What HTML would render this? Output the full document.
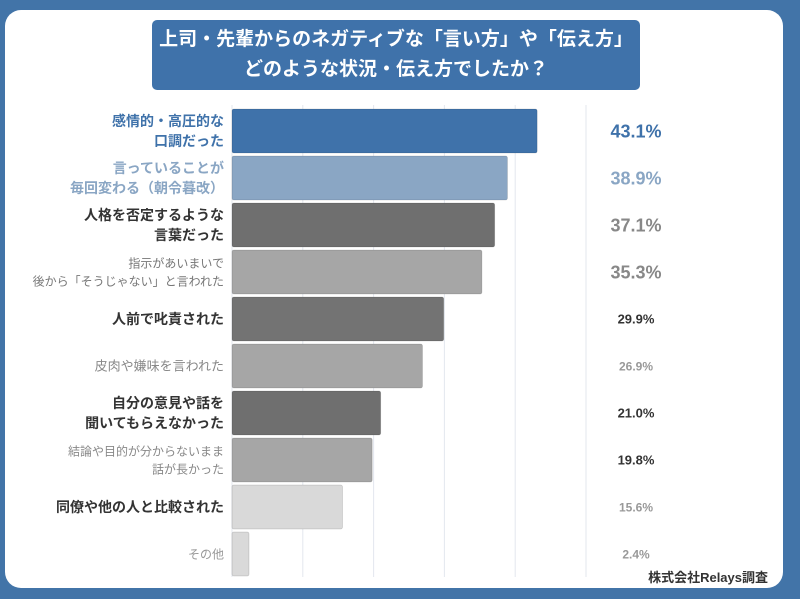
<!DOCTYPE html>
<html><head><meta charset="utf-8"><style>
body{margin:0;width:800px;height:599px;background:#4274a8;font-family:"Liberation Sans","Noto Sans CJK JP",sans-serif;overflow:hidden}
#card{position:absolute;left:5px;top:10px;width:778px;height:578px;background:#fff;border-radius:16px}
#title{position:absolute;left:152px;top:20px;width:488px;height:70px;background:#3f72aa;border-radius:5px;color:#fff;font-weight:bold;font-size:19px;text-align:center;line-height:30px;padding-top:5px;box-sizing:border-box}
svg{position:absolute;left:0;top:0}
</style></head><body>
<div id="card"></div>
<div id="title">上司・先輩からのネガティブな「言い方」や「伝え方」<br>どのような状況・伝え方でしたか？</div>
<svg id="chart" width="800" height="599"></svg>
<script>
const categories=[["感情的・高圧的な","口調だった"],["言っていることが","毎回変わる（朝令暮改）"],["人格を否定するような","言葉だった"],["指示があいまいで","後から「そうじゃない」と言われた"],["人前で叱責された"],["皮肉や嫌味を言われた"],["自分の意見や話を","聞いてもらえなかった"],["結論や目的が分からないまま","話が長かった"],["同僚や他の人と比較された"],["その他"]];
const values=[43.1,38.9,37.1,35.3,29.9,26.9,21.0,19.8,15.6,2.4];
const ticks=[0,10,20,30,40,50];
const barColors=["#3f72aa","#8aa6c4","#6f6f6f","#a6a6a6","#737373","#a6a6a6","#6f6f6f","#a6a6a6","#d9d9d9","#d9d9d9"];
const labelColors=["#3f72aa","#8aa6c4","#333","#777","#333","#888","#333","#888","#333","#999"];
const labelBold=[1,1,1,0,1,0,1,0,1,0];
const labelSize=[14,14,14,12,14,13,14,12,14,12];
const valColors=["#3f72aa","#8aa6c4","#888","#888","#333","#999","#333","#333","#999","#999"];
const valSize=[18,18,18,18,13,12,13,13,12,12];
const x0=232,pxPer=7.08,top0=109,step=47,bh=44;
const X=v=>x0+v*pxPer;
const Y=i=>top0+i*step;
const svg=document.getElementById('chart');
const NS="http://www.w3.org/2000/svg";
function mk(t,a){const e=document.createElementNS(NS,t);for(const k in a)e.setAttribute(k,a[k]);svg.appendChild(e);return e;}
ticks.forEach(t=>{const l=mk('line',{x1:X(t),x2:X(t),y1:105,y2:577,stroke:'#e3e7ee','stroke-width':1});

});
values.forEach((v,i)=>{
const r=mk('rect',{x:x0,y:Y(i),width:X(v)-x0,height:bh,fill:barColors[i],rx:2,stroke:'rgba(0,0,0,0.15)','stroke-width':0.8});


const lines=categories[i];const lh=labelSize[i]+6;
const cy=Y(i)+bh/2;
lines.forEach((s,j)=>{const t=mk('text',{x:224,y:cy+(j-(lines.length-1)/2)*lh+labelSize[i]*0.36,'text-anchor':'end','font-size':labelSize[i],'font-weight':labelBold[i]?'bold':'normal',fill:labelColors[i]});t.textContent=s;

});
const vt=mk('text',{x:636,y:cy+valSize[i]*0.36,'text-anchor':'middle','font-size':valSize[i],'font-weight':'bold',fill:valColors[i]});
vt.textContent=v.toFixed(1)+'%';


});
const src=mk('text',{x:768,y:582,'text-anchor':'end','font-size':13,'font-weight':'bold',fill:'#333'});
src.textContent='株式会社Relays調査';


</script>
</body></html>
